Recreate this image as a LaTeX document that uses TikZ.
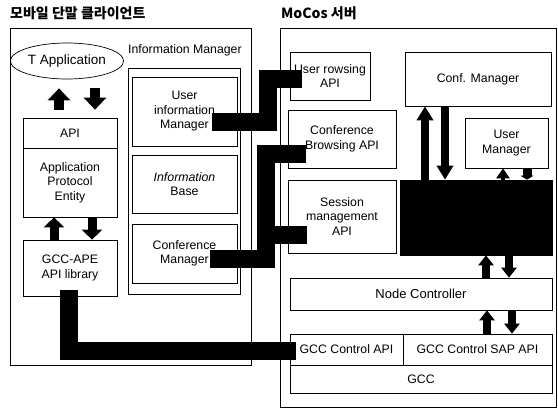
\documentclass[tikz,border=0pt]{standalone}
\usepackage{fontspec}
\setmainfont{Liberation Sans}
\newfontfamily\krfont{Noto Sans CJK KR}
\usetikzlibrary{arrows.meta,shapes.geometric}
\begin{document}
\begin{tikzpicture}[x=1pt,y=-1pt,
  box/.style={draw, line width=0.7pt, inner sep=1pt, align=center, font=\fontsize{12.3}{14.5}\selectfont},
  conn/.style={line width=18pt, line join=miter, line cap=butt, black},
  barrow/.style={line width=10pt, -{Triangle[width=22pt,length=12pt]}},
  marrow/.style={line width=8pt, -{Triangle[width=16pt,length=14pt]}},
  sarrow/.style={line width=8pt, -{Triangle[width=15pt,length=10pt]}},
  title/.style={anchor=west, inner sep=0pt, font=\krfont\bfseries\fontsize{14}{16}\selectfont}
]
\useasboundingbox (0,0) rectangle (558,411);
% titles
\node[title] (tl) at (10,13) {모바일 단말 클라이언트};
\node[title] (tr) at (281,13) {MoCos 서버};
% left side
\node[box, minimum width=241pt, minimum height=337pt] (lout) at (130.5,196.5) {};
\node[anchor=west, inner sep=0pt, font=\fontsize{12.3}{14}\selectfont] (imt) at (128,50) {Information Manager};
\node[box, minimum width=112pt, minimum height=226pt] (imgr) at (184,181) {};
\node[box, minimum width=105pt, minimum height=69pt] (uim) at (184.5,111.5) {User\\information\\Manager};
\node[box, minimum width=105pt, minimum height=58pt] (ib) at (184.5,184) {\textit{Information}\\Base};
\node[box, minimum width=105pt, minimum height=59pt] (cm) at (184.5,253.5) {Conference\\Manager};
\node[box, ellipse, minimum width=105pt, minimum height=36pt, font=\fontsize{13.5}{15}\selectfont] (tapp) at (67,61) {T Application};
\node[box, minimum width=94pt, minimum height=30pt] (api) at (70,133) {API};
\node[box, minimum width=94pt, minimum height=69pt] (ape) at (70,182.5) {Application\\Protocol\\Entity};
\node[box, minimum width=94pt, minimum height=56pt] (gape) at (70,268) {GCC-APE\\API library};
% right side
\node[box, minimum width=276pt, minimum height=379pt] (rout) at (418,217.5) {};
\node[box, minimum width=80pt, minimum height=48pt] (ura) at (330,76) {User rowsing\\API};
\node[box, minimum width=108pt, minimum height=58pt] (cba) at (342,139) {Conference\\Browsing API};
\node[box, minimum width=108pt, minimum height=73pt] (sma) at (342,216.5) {Session\\management\\API};
\node[box, minimum width=146pt, minimum height=54pt] (confm) at (478,79) {Conf. Manager};
\node[box, minimum width=83pt, minimum height=50pt] (um) at (506.5,143) {User\\Manager};
\node[draw, fill=black, line width=0.7pt, minimum width=152pt, minimum height=75pt] (blk) at (476,217.5) {};
\node[box, minimum width=262pt, minimum height=32pt, font=\fontsize{13}{15}\selectfont] (nc) at (421,294) {Node Controller};
\node[box, minimum width=113pt, minimum height=31pt] (gca) at (346.5,349.5) {GCC Control API};
\node[box, minimum width=149pt, minimum height=31pt] (gsap) at (477.5,349.5) {GCC Control SAP API};
\node[box, minimum width=262pt, minimum height=28pt] (gcc) at (421,379) {GCC};
% arrow x positions
\coordinate (xa) at (59,0);
\coordinate (xb) at (95,0);
\coordinate (xc) at (54,0);
\coordinate (xd) at (92,0);
\coordinate (xe) at (425,0);
\coordinate (xf) at (445,0);
\coordinate (xg) at (503,0);
\coordinate (xh) at (527,0);
\coordinate (xi) at (486,0);
\coordinate (xj) at (509,0);
\coordinate (xk) at (487,0);
\coordinate (xl) at (512,0);
% block arrows
\draw[barrow, shorten <=8pt, shorten >=9pt] (api.north -| xa) -- (tapp.south -| xa);
\draw[barrow, shorten <=9pt, shorten >=8pt] (tapp.south -| xb) -- (api.north -| xb);
\draw[barrow, line width=9pt, -{Triangle[width=20pt,length=10pt]}] (gape.north -| xc) -- (ape.south -| xc);
\draw[barrow, line width=9pt, -{Triangle[width=20pt,length=10pt]}] (ape.south -| xd) -- (gape.north -| xd);
\draw[marrow] (blk.north -| xe) -- (confm.south -| xe);
\draw[marrow] (confm.south -| xf) -- (blk.north -| xf);
\draw[line width=4pt, -{Triangle[width=13pt,length=10pt]}] (blk.north -| xg) -- (um.south -| xg);
\draw[line width=9pt, -{Triangle[width=13pt,length=4pt]}] (um.south -| xh) -- (blk.north -| xh);
\draw[sarrow] (nc.north -| xi) -- (blk.south -| xi);
\draw[sarrow] (blk.south -| xj) -- (nc.north -| xj);
\draw[sarrow] (gsap.north -| xk) -- (nc.south -| xk);
\draw[sarrow] (nc.south -| xl) -- (gsap.north -| xl);
% thick connectors
\coordinate (c1a) at (212,122.5);
\coordinate (c1b) at (302,79);
\draw[conn] (c1a) -- (267.5,122.5) -- (267.5,79) -- (c1b);
\coordinate (c2a) at (210,259);
\coordinate (c2b) at (306,154);
\coordinate (c2c) at (307,235);
\draw[conn] (c2a) -- (266,259) -- (266,154) -- (c2b);
\draw[conn] (266,235) -- (c2c);
\coordinate (c3a) at (68.5,290);
\coordinate (c3b) at (296,351);
\draw[conn] (c3a) -- (68.5,351) -- (c3b);
\end{tikzpicture}
\end{document}
